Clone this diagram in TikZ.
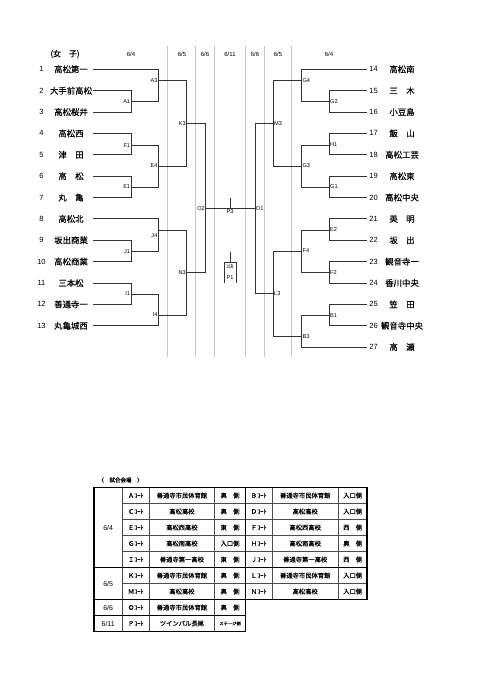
\documentclass[tikz,border=0pt]{standalone}
\usepackage{fontspec}
\setmainfont{Liberation Sans}
\newfontfamily\jp{Noto Sans CJK JP}
\newfontfamily\jpb[FakeBold=0.35]{Noto Sans CJK JP}
\usetikzlibrary{positioning}

\begin{document}
\begin{tikzpicture}[
    x=1pt, y=-1pt,
    team/.style={font=\jpb\fontsize{8.4}{9}\selectfont, inner sep=0pt},
    seed/.style={font=\fontsize{7.5}{8}\selectfont, inner sep=0pt},
    tag/.style={font=\fontsize{5.6}{6}\selectfont, inner sep=0.7pt},
    day/.style={font=\fontsize{6}{6}\selectfont, inner sep=0pt},
    bline/.style={line width=0.9pt, black!80},
    guide/.style={line width=0.6pt, black!22},
    cell/.style={font=\jpb\fontsize{6.3}{7}\selectfont, inner sep=0pt},
    tday/.style={font=\fontsize{7}{8}\selectfont, inner sep=0pt},
    grid/.style={line width=0.45pt, black!70},
    frame/.style={line width=1.3pt}
  ]
  \useasboundingbox (0,0) rectangle (481,680);

  % day columns
  \foreach \x in {167.7,195.7,214.3,245.7,264.3,291.7}
    \draw[guide] (\x,46) -- (\x,357);
  \node[font=\jpb\fontsize{8}{9}\selectfont] (title) at (65,54) {(女　子)};
  \foreach \x/\d [count=\k] in {131/{6/4},182/{6/5},205/{6/6},230/{6/11},255/{6/6},278/{6/5},329/{6/4}}
    \node[day] (d\k) at (\x,54) {\d};

  % teams
  \foreach \i/\t in {1/高松第一,2/大手前高松,3/高松桜井,4/高松西,5/津　田,6/高　松,7/丸　亀,
      8/高松北,9/坂出商業,10/高松商業,11/三本松,12/善通寺一,13/丸亀城西} {
    \node[seed] (n\i) at (41.5,{69.3+(\i-1)*21.37}) {\i};
    \node[team] (t\i) at (71,{69.3+(\i-1)*21.37}) {\t};
    \coordinate (l\i) at (93.3,{69.3+(\i-1)*21.37});
  }
  \foreach \i/\t in {14/高松南,15/三　木,16/小豆島,17/飯　山,18/高松工芸,19/高松東,20/高松中央,
      21/英　明,22/坂　出,23/観音寺一,24/香川中央,25/笠　田,26/観音寺中央,27/高　瀬} {
    \node[seed] (n\i) at (373.5,{69.3+(\i-14)*21.37}) {\i};
    \node[team] (t\i) at (402,{69.3+(\i-14)*21.37}) {\t};
    \coordinate (r\i) at (366.7,{69.3+(\i-14)*21.37});
  }

  % matches (left)
  \coordinate (A1) at (131,101.5);
  \coordinate (A3) at (158.3,80.7);
  \coordinate (F1) at (131,145);
  \coordinate (E1) at (131,187);
  \coordinate (E4) at (158.3,166);
  \coordinate (K3) at (186.7,123.3);
  \coordinate (J1) at (131,251.3);
  \coordinate (J4) at (158.3,230);
  \coordinate (I1) at (131,294);
  \coordinate (I4) at (158.3,315);
  \coordinate (N3) at (186.7,272.3);
  \coordinate (O2) at (205.7,208.3);
  % matches (right)
  \coordinate (G2) at (329.3,101.5);
  \coordinate (G4) at (301.7,80.7);
  \coordinate (H1) at (329.3,145);
  \coordinate (G1) at (329.3,187);
  \coordinate (G3) at (301.7,166);
  \coordinate (M3) at (273.3,123.3);
  \coordinate (E2) at (329.3,230);
  \coordinate (F2) at (329.3,272.5);
  \coordinate (F4) at (301.7,251);
  \coordinate (B1) at (329.3,315.3);
  \coordinate (B3) at (301.7,336.7);
  \coordinate (L3) at (273.3,293.3);
  \coordinate (O1) at (255,208.3);

  \foreach \m/\t/\b in {A1/l2/l3,A3/l1/A1,F1/l4/l5,E1/l6/l7,E4/F1/E1,K3/A3/E4,
      J1/l9/l10,J4/l8/J1,I1/l11/l12,I4/I1/l13,N3/J4/I4,O2/K3/N3,
      G2/r15/r16,G4/r14/G2,H1/r17/r18,G1/r19/r20,G3/H1/G1,M3/G4/G3,
      E2/r21/r22,F2/r23/r24,F4/E2/F2,B1/r25/r26,B3/B1/r27,L3/F4/B3,O1/M3/L3}
    \draw[bline] (\t) -- (\t -| \m) -- (\b -| \m) -- (\b);
  \draw[bline] (O2) -- (O1);

  \foreach \m/\dy in {A1/0,A3/0,F1/1,E1/0,E4/0,K3/0,J1/0,J4/6,I1/0,I4/0,N3/0,O2/0}
    \node[tag, anchor=east, yshift=-\dy pt] (lab\m) at (\m) {\m};
  \foreach \m in {G2,G4,H1,G1,G3,M3,E2,F2,F4,B1,B3,L3,O1}
    \node[tag, anchor=west] (lab\m) at (\m) {\m};

  % final and third place
  \coordinate (P3) at (230,208.3);
  \coordinate (P3top) at (230,198.3);
  \draw[bline] (P3) -- (P3top);
  \node[tag, below=0.8pt of P3] (labP3) {P3};
  \coordinate (P1) at (230,262.7);
  \coordinate (P1top) at (230,251.7);
  \coordinate (P1l) at (224,262.7);
  \coordinate (P1r) at (236,262.7);
  \draw[bline] (P1) -- (P1top);
  \draw[bline] (P1l |- 0,283) -- (P1l) -- (P1r) -- (P1r |- 0,283);
  \node[tag, font=\jp\fontsize{4.8}{5}\selectfont, inner sep=0pt] (third) at (230,266.6) {3決};
  \node[tag, inner sep=0pt] (labP1) at (230,277.3) {P1};

  % venues
  \node[cell, font=\jpb\fontsize{5.5}{6}\selectfont] (venues) at (120.5,480) {〈\quad 試合会場\quad 〉};
  \foreach \y in {503.5,519.5,535.5,551.5,583.5}
    \draw[grid] (122.3,\y) -- (367,\y);
  \foreach \x in {122.3,149.3,214.5}
    \draw[grid] (\x,487.5) -- (\x,631.5);
  \foreach \x in {272,338.5}
    \draw[grid] (\x,487.5) -- (\x,599.5);
  \draw[frame] (245.5,631.5) -- (94,631.5) -- (94,487.5) -- (367,487.5) -- (367,599.5) -- (245.5,599.5);
  \draw[frame] (245.5,487.5) -- (245.5,631.5);
  \draw[frame] (94,567.5) -- (367,567.5);
  \draw[frame] (94,599.5) -- (245.5,599.5);
  \draw[frame] (94,615.5) -- (245.5,615.5);

  \node[tday] (td1) at (108.2,527.5) {6/4};
  \node[tday] (td2) at (108.2,583.5) {6/5};
  \node[tday] (td3) at (108.2,607.5) {6/6};
  \node[tday] (td4) at (108.2,623.5) {6/11};

  \foreach \c/\v/\s [count=\k] in {Ａ/善通寺市民体育館/奥　側,Ｃ/高松高校/奥　側,Ｅ/高松西高校/東　側,
      Ｇ/高松南高校/入口側,Ｉ/善通寺第一高校/東　側,Ｋ/善通寺市民体育館/奥　側,Ｍ/高松高校/奥　側,
      Ｏ/善通寺市民体育館/奥　側,Ｐ/ツインパル長尾/{\fontsize{4.3}{5}\selectfont ステージ側}} {
    \node[cell] (lc\k) at (135.8,{479.5+16*\k}) {\c ｺｰﾄ};
    \node[cell] (lv\k) at (181.9,{479.5+16*\k}) {\v};
    \node[cell] (ls\k) at (230,{479.5+16*\k}) {\s};
  }
  \foreach \c/\v/\s [count=\k] in {Ｂ/善通寺市民体育館/入口側,Ｄ/高松高校/入口側,Ｆ/高松西高校/西　側,
      Ｈ/高松南高校/奥　側,Ｊ/善通寺第一高校/西　側,Ｌ/善通寺市民体育館/入口側,Ｎ/高松高校/入口側} {
    \node[cell] (rc\k) at (258.7,{479.5+16*\k}) {\c ｺｰﾄ};
    \node[cell] (rv\k) at (305.2,{479.5+16*\k}) {\v};
    \node[cell] (rs\k) at (352.7,{479.5+16*\k}) {\s};
  }
\end{tikzpicture}
\end{document}
